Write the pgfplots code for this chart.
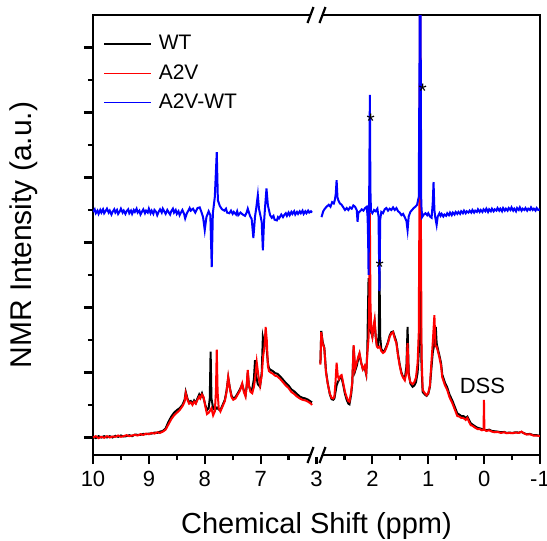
\documentclass[border=0pt]{standalone}
\usepackage{pgfplots}
\pgfplotsset{compat=1.18}
\usetikzlibrary{calc}
\usepackage{fontspec}
\setmainfont{Liberation Sans}
\begin{document}
\begin{tikzpicture}
\begin{axis}[
  width=223.5pt, height=220pt, scale only axis,
  xmin=0, xmax=8, ymin=-0.27, ymax=6.5,
  axis line style={line width=1.1pt},
  xtick={0,1,2,3,4,5,6,7,8},
  xticklabels={10,9,8,7,3,2,1,0,-1},
  minor x tick num=1,
  ytick={0,...,6}, minor y tick num=1, yticklabels={},
  tick align=outside, xtick pos=bottom, ytick pos=left,
  major tick length=4.5pt, minor tick length=2.5pt,
  every tick/.style={black, line width=1.1pt},
  tick label style={font=\fontsize{11}{13}\selectfont},
  /pgf/number format/assume math mode=true,
  legend style={draw=none, fill=none, at={(rel axis cs:0,1)}, anchor=north west,
    xshift=4pt, yshift=-7pt, font=\fontsize{10.5}{12}\selectfont, row sep=1.8pt,
    inner sep=1pt},
  legend cell align=left,
  legend image code/.code={\draw (0pt,0pt) -- (23.5pt,0pt);},
]
\coordinate (sw) at (rel axis cs:0,0);
\coordinate (ne) at (rel axis cs:1,1);
\coordinate (bt) at (rel axis cs:0.5,1);
\coordinate (bb) at (rel axis cs:0.5,0);
\coordinate (ylab) at (rel axis cs:0,0.5);
\coordinate (xlab) at (rel axis cs:0.5,0);
\addlegendimage{black, line width=0.7pt}
\addlegendentry{\hspace{1.5pt}WT}
\addlegendimage{red, line width=0.7pt}
\addlegendentry{\hspace{1.5pt}A2V}
\addlegendimage{blue, line width=0.7pt}
\addlegendentry{\hspace{1.5pt}A2V-WT}
% ---------- left segment (10 -> 6 ppm) ----------
\addplot[black, line width=1pt, forget plot, x filter/.expression={10-x}] coordinates {
(10.00,0.01)(9.95,-0.01)(9.90,0.02)(9.85,0.00)(9.80,0.02)(9.75,0.00)(9.70,0.02)(9.65,0.00)
(9.60,0.025)(9.55,0.01)(9.50,0.03)(9.45,0.015)(9.40,0.02)(9.35,0.035)(9.30,0.02)(9.25,0.045)
(9.20,0.04)(9.15,0.04)(9.10,0.055)(9.05,0.05)(9.00,0.06)(8.95,0.06)(8.90,0.075)(8.85,0.07)
(8.80,0.09)(8.75,0.10)(8.70,0.14)(8.65,0.24)(8.60,0.32)(8.55,0.38)(8.50,0.42)(8.45,0.45)
(8.40,0.5)(8.36,0.58)(8.34,0.70)(8.31,0.6)(8.28,0.54)(8.25,0.56)(8.22,0.52)(8.19,0.57)
(8.16,0.53)(8.13,0.6)(8.10,0.66)(8.08,0.62)(8.05,0.68)(8.02,0.6)(7.99,0.5)(7.96,0.42)
(7.93,0.45)(7.91,0.6)(7.895,1.32)(7.88,0.6)(7.85,0.45)(7.82,0.42)(7.80,0.44)(7.78,0.46)
(7.75,0.43)(7.72,0.42)(7.68,0.5)(7.64,0.58)(7.61,0.72)(7.58,0.92)(7.55,0.76)(7.52,0.64)
(7.49,0.6)(7.45,0.62)(7.41,0.68)(7.37,0.74)(7.33,0.82)(7.30,0.72)(7.27,0.65)(7.25,0.78)
(7.23,1.0)(7.21,0.8)(7.18,0.72)(7.15,0.75)(7.12,0.9)(7.10,1.19)(7.08,0.95)(7.05,0.82)
(7.01,0.78)(6.98,1.0)(6.96,1.54)(6.94,1.45)(6.92,1.55)(6.90,1.45)(6.87,1.15)(6.85,1.06)
(6.82,1.04)(6.78,1.02)(6.74,0.99)(6.70,0.98)(6.65,0.94)(6.60,0.89)(6.55,0.84)(6.50,0.8)
(6.45,0.74)(6.40,0.71)(6.35,0.67)(6.30,0.63)(6.25,0.61)(6.20,0.6)(6.15,0.58)(6.10,0.55)(6.08,0.54)
};
\addplot[red, line width=1pt, forget plot, x filter/.expression={10-x}] coordinates {
(10.00,0.00)(9.95,0.02)(9.90,-0.01)(9.85,0.01)(9.80,-0.005)(9.75,0.02)(9.70,0.00)(9.65,0.015)
(9.60,0.01)(9.55,0.03)(9.50,0.01)(9.45,0.02)(9.40,0.035)(9.35,0.02)(9.30,0.03)(9.25,0.04)
(9.20,0.03)(9.15,0.05)(9.10,0.04)(9.05,0.06)(9.00,0.05)(8.95,0.07)(8.90,0.06)(8.85,0.08)
(8.80,0.07)(8.75,0.09)(8.70,0.12)(8.65,0.2)(8.60,0.28)(8.55,0.34)(8.50,0.38)(8.45,0.42)
(8.40,0.48)(8.36,0.55)(8.34,0.68)(8.31,0.58)(8.28,0.52)(8.25,0.54)(8.22,0.50)(8.19,0.55)
(8.16,0.52)(8.13,0.58)(8.10,0.63)(8.08,0.60)(8.05,0.66)(8.02,0.62)(7.99,0.48)(7.96,0.36)
(7.93,0.38)(7.90,0.42)(7.88,0.45)(7.85,0.34)(7.82,0.40)(7.80,0.7)(7.785,1.35)(7.77,0.7)
(7.75,0.45)(7.72,0.40)(7.68,0.48)(7.64,0.56)(7.61,0.7)(7.58,0.93)(7.55,0.75)(7.52,0.62)
(7.49,0.58)(7.45,0.60)(7.41,0.66)(7.37,0.72)(7.33,0.83)(7.30,0.70)(7.27,0.63)(7.25,0.8)
(7.23,1.04)(7.21,0.8)(7.18,0.7)(7.15,0.68)(7.12,0.78)(7.10,0.9)(7.07,1.16)(7.04,0.95)
(7.01,0.80)(6.98,0.95)(6.955,1.25)(6.93,1.4)(6.91,1.70)(6.89,1.5)(6.87,1.1)(6.85,1.02)
(6.82,1.00)(6.78,0.98)(6.74,0.95)(6.70,0.94)(6.65,0.90)(6.60,0.85)(6.55,0.80)(6.50,0.76)
(6.45,0.70)(6.40,0.67)(6.35,0.63)(6.30,0.60)(6.25,0.58)(6.20,0.57)(6.15,0.55)(6.10,0.52)(6.08,0.50)
};
\addplot[blue, line width=1pt, forget plot, x filter/.expression={10-x}] coordinates {
(10.00,3.47)(9.97,3.51)(9.95,3.45)(9.92,3.49)(9.90,3.44)(9.87,3.50)(9.85,3.46)(9.82,3.51)
(9.80,3.45)(9.77,3.49)(9.75,3.52)(9.72,3.46)(9.70,3.49)(9.67,3.43)(9.65,3.47)(9.62,3.51)
(9.60,3.46)(9.57,3.50)(9.55,3.44)(9.52,3.48)(9.50,3.52)(9.47,3.46)(9.45,3.49)(9.42,3.44)
(9.40,3.48)(9.37,3.51)(9.35,3.45)(9.32,3.49)(9.30,3.44)(9.27,3.50)(9.25,3.47)(9.22,3.52)
(9.20,3.46)(9.17,3.49)(9.15,3.43)(9.12,3.48)(9.10,3.51)(9.07,3.45)(9.05,3.49)(9.02,3.46)
(9.00,3.52)(8.97,3.45)(8.95,3.49)(8.92,3.44)(8.90,3.50)(8.87,3.47)(8.85,3.42)(8.82,3.48)
(8.80,3.51)(8.77,3.46)(8.75,3.52)(8.72,3.47)(8.70,3.44)(8.67,3.50)(8.65,3.47)(8.62,3.43)
(8.60,3.48)(8.57,3.52)(8.55,3.46)(8.52,3.50)(8.50,3.44)(8.47,3.48)(8.45,3.42)(8.42,3.47)
(8.40,3.50)(8.37,3.44)(8.35,3.37)(8.32,3.45)(8.30,3.48)(8.27,3.53)(8.25,3.49)(8.21,3.52)
(8.17,3.46)(8.13,3.53)(8.09,3.54)(8.06,3.47)(8.03,3.39)(8.00,3.19)(7.97,3.39)(7.93,3.48)
(7.90,3.42)(7.875,2.62)(7.855,3.45)(7.82,3.70)(7.785,4.39)(7.765,3.65)(7.73,3.56)
(7.69,3.51)(7.65,3.49)(7.62,3.52)(7.60,3.46)(7.56,3.45)(7.53,3.49)(7.50,3.44)(7.48,3.47)
(7.44,3.43)(7.42,3.48)(7.40,3.42)(7.36,3.46)(7.32,3.43)(7.28,3.41)(7.25,3.46)(7.23,3.52)
(7.19,3.41)(7.16,3.36)(7.13,3.07)(7.10,3.40)(7.08,3.52)(7.05,3.73)(7.03,3.52)(7.00,3.40)
(6.98,3.31)(6.96,2.88)(6.94,3.30)(6.92,3.55)(6.895,3.83)(6.87,3.57)(6.83,3.42)(6.80,3.38)
(6.77,3.41)(6.75,3.35)(6.71,3.34)(6.69,3.39)(6.67,3.37)(6.63,3.43)(6.60,3.39)(6.58,3.42)
(6.55,3.45)(6.53,3.41)(6.50,3.46)(6.48,3.42)(6.45,3.47)(6.43,3.44)(6.40,3.48)(6.38,3.43)
(6.35,3.47)(6.33,3.44)(6.30,3.48)(6.28,3.45)(6.25,3.49)(6.23,3.44)(6.20,3.48)(6.18,3.45)
(6.15,3.49)(6.13,3.46)(6.10,3.48)(6.08,3.46)
};
% ---------- right segment (3 -> -1 ppm) ----------
\addplot[black, line width=1pt, forget plot, x filter/.expression={7-x}] coordinates {
(2.93,1.14)(2.915,1.64)(2.89,1.47)(2.86,1.38)(2.83,1.02)(2.80,0.84)(2.76,0.66)(2.73,0.59)
(2.70,0.58)(2.68,0.60)(2.66,0.70)(2.64,0.80)(2.62,0.85)(2.60,0.88)(2.57,0.93)(2.55,0.92)
(2.52,0.80)(2.49,0.67)(2.46,0.58)(2.43,0.52)(2.41,0.51)(2.38,0.66)(2.36,0.83)(2.335,1.40)
(2.31,1.02)(2.28,1.10)(2.25,1.22)(2.23,1.28)(2.20,1.15)(2.17,1.05)(2.14,1.08)(2.11,0.97)
(2.09,1.35)(2.08,1.9)(2.068,2.45)(2.055,1.9)(2.045,1.65)(2.03,1.62)(2.015,1.6)(2.00,1.55)
(1.98,1.68)(1.96,1.78)(1.94,1.55)(1.92,1.42)(1.90,1.42)(1.885,1.6)(1.873,2.6)(1.86,1.55)
(1.84,1.36)(1.81,1.32)(1.78,1.34)(1.75,1.40)(1.72,1.47)(1.69,1.57)(1.66,1.62)(1.63,1.63)
(1.60,1.55)(1.57,1.47)(1.54,1.28)(1.51,1.12)(1.48,1.0)(1.45,0.93)(1.42,0.9)(1.39,1.1)
(1.37,1.7)(1.35,1.0)(1.32,0.83)(1.28,0.78)(1.25,0.8)(1.22,0.85)(1.19,1.0)(1.17,1.3)
(1.155,2.0)(1.145,2.3)(1.135,2.0)(1.12,1.1)(1.10,0.7)(1.06,0.66)(1.03,0.64)(1.00,0.67)
(0.97,0.78)(0.94,1.1)(0.92,1.3)(0.89,1.45)(0.865,1.7)(0.85,1.45)(0.82,1.33)(0.80,1.26)
(0.77,1.14)(0.75,0.97)(0.70,0.84)(0.66,0.77)(0.62,0.66)(0.57,0.57)(0.52,0.46)(0.48,0.37)
(0.44,0.35)(0.41,0.33)(0.37,0.33)(0.33,0.3)(0.30,0.32)(0.27,0.27)(0.24,0.22)(0.21,0.2)
(0.16,0.17)(0.12,0.15)(0.08,0.14)(0.04,0.13)(0.01,0.12)(-0.005,0.12)(-0.04,0.11)(-0.09,0.12)
(-0.14,0.10)(-0.19,0.095)(-0.24,0.09)(-0.30,0.08)(-0.36,0.085)(-0.40,0.07)(-0.45,0.075)
(-0.51,0.07)(-0.56,0.08)(-0.62,0.075)(-0.67,0.085)(-0.70,0.07)(-0.76,0.05)(-0.82,0.055)
(-0.88,0.035)(-0.94,0.035)(-1.00,0.025)
};
\addplot[red, line width=1pt, forget plot, x filter/.expression={7-x}] coordinates {
(2.93,1.12)(2.915,1.62)(2.89,1.45)(2.86,1.37)(2.83,1.0)(2.80,0.83)(2.76,0.67)(2.73,0.61)
(2.70,0.60)(2.68,0.63)(2.66,0.85)(2.64,1.15)(2.62,0.95)(2.60,0.90)(2.57,0.95)(2.55,0.96)
(2.52,0.83)(2.49,0.70)(2.46,0.62)(2.43,0.56)(2.41,0.55)(2.38,0.7)(2.36,0.85)(2.335,1.42)
(2.31,1.05)(2.28,1.15)(2.25,1.25)(2.23,1.30)(2.20,1.15)(2.17,1.05)(2.14,1.1)(2.11,0.98)
(2.09,1.3)(2.07,1.5)(2.058,1.9)(2.045,3.45)(2.035,2.1)(2.02,1.65)(2.00,1.55)(1.98,1.70)
(1.96,1.81)(1.94,1.55)(1.92,1.40)(1.90,1.38)(1.87,1.40)(1.84,1.33)(1.81,1.30)(1.78,1.32)
(1.75,1.38)(1.72,1.45)(1.69,1.55)(1.66,1.60)(1.63,1.62)(1.60,1.52)(1.57,1.45)(1.54,1.25)
(1.51,1.10)(1.48,0.98)(1.45,0.92)(1.42,0.88)(1.39,1.0)(1.37,1.45)(1.35,0.95)(1.32,0.85)
(1.28,0.82)(1.25,0.85)(1.22,0.92)(1.19,1.15)(1.17,1.6)(1.155,4)(1.145,9)(1.135,4)
(1.12,1.3)(1.10,0.73)(1.06,0.68)(1.03,0.65)(1.00,0.68)(0.97,0.80)(0.94,1.2)(0.92,1.45)
(0.89,1.88)(0.87,1.4)(0.85,1.40)(0.82,1.30)(0.80,1.23)(0.77,1.10)(0.75,0.93)(0.70,0.80)
(0.66,0.73)(0.62,0.62)(0.57,0.53)(0.52,0.42)(0.48,0.33)(0.44,0.32)(0.41,0.30)(0.37,0.30)
(0.33,0.27)(0.30,0.30)(0.27,0.24)(0.24,0.19)(0.21,0.18)(0.16,0.15)(0.12,0.13)(0.08,0.13)
(0.04,0.11)(0.01,0.12)(0.003,0.58)(-0.005,0.12)(-0.04,0.10)(-0.09,0.11)(-0.14,0.09)
(-0.19,0.08)(-0.24,0.085)(-0.30,0.07)(-0.36,0.08)(-0.40,0.065)(-0.45,0.07)(-0.51,0.065)
(-0.56,0.075)(-0.62,0.07)(-0.67,0.09)(-0.70,0.07)(-0.76,0.045)(-0.82,0.05)(-0.88,0.03)
(-0.94,0.03)(-1.00,0.02)
};
\addplot[blue, line width=1pt, forget plot, x filter/.expression={7-x}] coordinates {
(2.91,3.39)(2.88,3.48)(2.85,3.52)(2.82,3.55)(2.78,3.58)(2.75,3.55)(2.72,3.62)(2.69,3.60)
(2.67,3.66)(2.655,3.75)(2.64,3.96)(2.625,3.70)(2.61,3.65)(2.58,3.60)(2.55,3.58)(2.52,3.54)
(2.49,3.50)(2.46,3.53)(2.43,3.50)(2.40,3.54)(2.37,3.52)(2.34,3.57)(2.31,3.55)(2.28,3.50)
(2.265,3.32)(2.25,3.46)(2.22,3.48)(2.19,3.51)(2.16,3.49)(2.13,3.53)(2.10,3.55)(2.085,3.39)
(2.075,3.0)(2.068,2.5)(2.058,3.6)(2.045,5.27)(2.035,3.8)(2.025,3.48)(2.00,3.45)(1.97,3.50)
(1.94,3.48)(1.91,3.52)(1.89,3.40)(1.873,2.25)(1.86,3.35)(1.84,3.47)(1.81,3.45)(1.78,3.51)
(1.75,3.53)(1.72,3.49)(1.69,3.52)(1.66,3.50)(1.63,3.54)(1.60,3.50)(1.57,3.53)(1.54,3.48)
(1.51,3.46)(1.48,3.42)(1.45,3.44)(1.42,3.39)(1.39,3.33)(1.37,3.19)(1.35,3.40)(1.32,3.47)
(1.29,3.50)(1.26,3.53)(1.23,3.55)(1.20,3.58)(1.17,3.7)(1.155,6)(1.145,12)(1.135,6)
(1.125,3.6)(1.11,3.39)(1.08,3.43)(1.05,3.45)(1.02,3.42)(1.00,3.45)(0.97,3.40)(0.94,3.38)
(0.92,3.6)(0.905,3.93)(0.89,3.5)(0.875,3.39)(0.85,3.27)(0.83,3.40)(0.80,3.45)(0.78,3.41)
(0.76,3.44)(0.73,3.40)(0.71,3.43)(0.68,3.41)(0.66,3.45)(0.63,3.42)(0.61,3.46)(0.58,3.42)
(0.56,3.46)(0.53,3.43)(0.51,3.47)(0.48,3.44)(0.46,3.47)(0.43,3.44)(0.41,3.48)(0.38,3.45)
(0.36,3.49)(0.33,3.45)(0.31,3.48)(0.28,3.46)(0.26,3.49)(0.23,3.46)(0.21,3.50)(0.18,3.46)
(0.16,3.49)(0.13,3.47)(0.11,3.51)(0.08,3.47)(0.06,3.50)(0.03,3.47)(0.01,3.51)(-0.02,3.48)
(-0.04,3.52)(-0.07,3.47)(-0.09,3.51)(-0.12,3.48)(-0.14,3.52)(-0.17,3.48)(-0.19,3.51)
(-0.22,3.49)(-0.24,3.53)(-0.27,3.49)(-0.29,3.52)(-0.32,3.48)(-0.34,3.53)(-0.37,3.49)
(-0.39,3.52)(-0.42,3.49)(-0.44,3.53)(-0.47,3.50)(-0.49,3.54)(-0.52,3.49)(-0.54,3.52)
(-0.57,3.48)(-0.59,3.53)(-0.62,3.50)(-0.64,3.54)(-0.67,3.49)(-0.69,3.52)(-0.72,3.50)
(-0.74,3.53)(-0.77,3.49)(-0.79,3.52)(-0.82,3.50)(-0.84,3.54)(-0.87,3.50)(-0.89,3.52)
(-0.92,3.49)(-0.94,3.53)(-0.97,3.50)(-1.00,3.51)
};
% annotations
\node[font=\fontsize{10.5}{12}\selectfont, anchor=base] at (axis cs:4.97,4.75) {*};
\node[font=\fontsize{10.5}{12}\selectfont, anchor=base] at (axis cs:5.13,2.50) {*};
\node[font=\fontsize{10.5}{12}\selectfont, anchor=base] at (axis cs:5.90,5.21) {*};
\node[font=\fontsize{11}{13}\selectfont, anchor=base] at (axis cs:6.97,0.68) {DSS};
\end{axis}
% axis breaks
\foreach \c in {bt,bb}{
  \fill[white] ($(\c)+(-3pt,-1.2pt)$) rectangle ($(\c)+(3pt,1.2pt)$);
  \draw[line width=1.1pt] ($(\c)+(-4.5pt,-4pt)$) -- ($(\c)+(-1.5pt,4pt)$);
  \draw[line width=1.1pt] ($(\c)+(1.5pt,-4pt)$) -- ($(\c)+(4.5pt,4pt)$);
}
\node[rotate=90, font=\fontsize{15}{17}\selectfont] at ($(ylab)+(-34.5pt,0)$) {NMR Intensity (a.u.)};
\node[font=\fontsize{14.5}{17}\selectfont, anchor=base] at ($(xlab)+(0,-39pt)$) {Chemical Shift (ppm)};
\pgfresetboundingbox
\path ($(sw)+(-46.5pt,-42.5pt)$) rectangle ($(ne)+(3.5pt,7.5pt)$);
\end{tikzpicture}
\end{document}
